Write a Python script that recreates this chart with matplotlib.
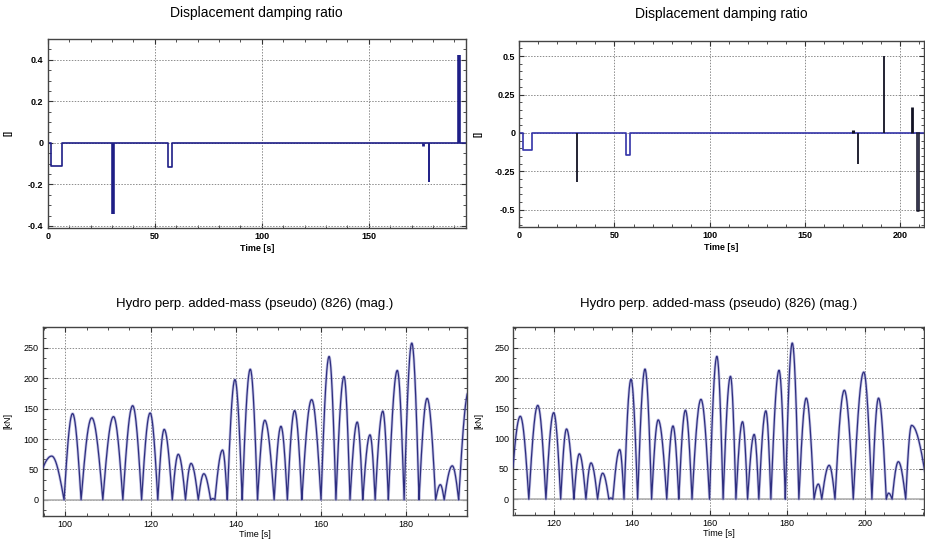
import numpy as np
import matplotlib
matplotlib.use("Agg")
import matplotlib.pyplot as plt
from matplotlib.ticker import MultipleLocator, AutoMinorLocator

plt.rcParams['font.family'] = ['Liberation Sans', 'DejaVu Sans']

# --- displacement damping ratio, first run (step signal + impulses)
damp_a_t = [0, 1.4, 6.5, 56.0, 58.2, 195.3]
damp_a_v = [0, -0.11, 0, -0.115, 0, 0]
spike_a_t = [30.4, 175.1, 178.1, 191.9]
spike_a_v = [-0.345, -0.015, -0.188, 0.423]
spike_a_w = [2.6, 2.0, 1.4, 2.6]

# --- displacement damping ratio, second run
damp_b_t = [0, 2.1, 6.8, 56.1, 58.2, 212.6]
damp_b_v = [0, -0.112, 0, -0.145, 0, 0]
spike_b_t = [30.2, 175.1, 178.1, 191.6, 206.3]
spike_b_v = [-0.322, 0.02, -0.199, 0.498, 0.169]
spike_b_w = [1.3, 2.2, 1.3, 1.3, 2.0]
dip_b_t = [208.8, 210.2]
dip_b_v = -0.508

# --- hydro added-mass force magnitude: lobes between zero touches
lobe_zero = [92.5, 99.7, 103.7, 108.8, 113.5, 117.9, 121.7, 125.1, 128.2,
             131.2, 134.1, 135.1, 138.0, 141.5, 145.1, 149.0, 152.1, 155.5,
             160.0, 163.5, 166.8, 169.8, 172.7, 175.8, 179.5, 183.0, 186.9,
             188.9, 192.3, 197.0, 201.8, 205.5, 207.0, 210.5, 216.5]
lobe_peak_t = [96.8, 101.7, 106.2, 111.3, 115.8, 119.9, 123.2, 126.5, 129.5,
               132.5, 134.6, 136.9, 139.8, 143.4, 146.8, 150.6, 153.8, 157.8,
               161.9, 165.4, 168.5, 171.5, 174.5, 177.9, 181.3, 184.9, 188.0,
               190.8, 194.7, 199.7, 203.5, 206.1, 208.6, 212.0]
lobe_peak_v = [72, 142, 135, 137, 155, 143, 116, 75, 60,
               43, 2, 82, 198, 215, 131, 121, 147, 165,
               236, 203, 128, 107, 146, 213, 258, 167, 25,
               56, 180, 210, 167, 10, 62, 122]

NAVY = '#1e1e86'
GRID = dict(color='#8c8c8c', linestyle=(0, (1.5, 1.5)), linewidth=0.7)


def force_curve():
    ts, vs = [], []
    for i, (p_t, p_v) in enumerate(zip(lobe_peak_t, lobe_peak_v)):
        z0, z1 = lobe_zero[i], lobe_zero[i + 1]
        up = np.linspace(z0, p_t, 25)
        down = np.linspace(p_t, z1, 25)[1:]
        ts += list(up) + list(down)
        vs += list(p_v * np.sin(np.pi / 2 * (up - z0) / (p_t - z0)))
        vs += list(p_v * np.cos(np.pi / 2 * (down - p_t) / (z1 - p_t)))
    return np.array(ts), np.array(vs)


def style(ax, bold):
    w = 'bold' if bold else 'normal'
    ax.tick_params(which='both', direction='in', top=True, right=True,
                   labelsize=6.5, colors='#333333', pad=3)
    ax.tick_params(which='major', length=3.5, width=0.8)
    ax.tick_params(which='minor', length=2, width=0.6)
    for lab in ax.get_xticklabels() + ax.get_yticklabels():
        lab.set_fontweight(w)
        lab.set_color('black')
    for s in ax.spines.values():
        s.set_color('#444444')
        s.set_linewidth(1.0)
    ax.grid(True, which='major', **GRID)
    ax.set_axisbelow(True)
    ax.set_xlabel('Time [s]', fontsize=6.5, fontweight=w,
                  labelpad=2 if bold else 0.5)


fig = plt.figure(figsize=(9.25, 5.4), dpi=100)

# top left
ax1 = fig.add_axes([0.0516, 0.5778, 0.452, 0.350])
ax1.step(damp_a_t, damp_a_v, where='post', color=NAVY, lw=1.2)
for t, v, w in zip(spike_a_t, spike_a_v, spike_a_w):
    ax1.vlines(t, 0, v, color=NAVY, lw=w)
ax1.set_xlim(0, 195.3)
ax1.set_ylim(-0.41, 0.5)
ax1.xaxis.set_major_locator(MultipleLocator(50))
ax1.xaxis.set_minor_locator(MultipleLocator(10))
ax1.set_yticks([-0.4, -0.2, 0, 0.2, 0.4])
ax1.set_yticklabels(['-0.4', '-0.2', '0', '0.2', '0.4'])
ax1.yaxis.set_minor_locator(MultipleLocator(0.05))
style(ax1, True)
ax1.set_ylabel('[]', fontsize=6.5, fontweight='bold')
ax1.yaxis.set_label_coords(-0.085, 0.5)
ax1.set_title('Displacement damping ratio', fontsize=10, pad=16)

# top right
ax2 = fig.add_axes([0.5614, 0.5802, 0.4375, 0.3444])
ax2.step(damp_b_t, damp_b_v, where='post', color='#3434a8', lw=1.2)
for t, v, w in zip(spike_b_t, spike_b_v, spike_b_w):
    ax2.vlines(t, 0, v, color='#111122', lw=w)
ax2.fill_between(dip_b_t, 0, dip_b_v, color='#b4b4e6', lw=0)
ax2.plot([dip_b_t[0], dip_b_t[0], dip_b_t[1], dip_b_t[1]],
         [0, dip_b_v, dip_b_v, 0], color='#111122', lw=1.1)
ax2.set_xlim(0, 212.6)
ax2.set_ylim(-0.61, 0.6)
ax2.xaxis.set_major_locator(MultipleLocator(50))
ax2.xaxis.set_minor_locator(MultipleLocator(10))
ax2.set_yticks([-0.5, -0.25, 0, 0.25, 0.5])
ax2.set_yticklabels(['-0.5', '-0.25', '0', '0.25', '0.5'])
ax2.yaxis.set_minor_locator(MultipleLocator(0.05))
style(ax2, True)
ax2.set_ylabel('[]', fontsize=6.5, fontweight='bold')
ax2.yaxis.set_label_coords(-0.09, 0.5)
ax2.set_title('Displacement damping ratio', fontsize=10, pad=16)

t_f, v_f = force_curve()
for rect, lim in [([0.0462, 0.0451, 0.4584, 0.3499], (94.7, 194.2)),
                  ([0.5549, 0.0464, 0.4440, 0.3486], (109.5, 215.2))]:
    ax = fig.add_axes(rect)
    ax.axhline(0, color='#b0b0b0', lw=1.2, zorder=1)
    ax.plot(t_f, v_f, color='#9c9cd2', lw=2.0, alpha=0.6, zorder=2)
    ax.plot(t_f, v_f, color='#2f2f80', lw=0.9, zorder=3)
    ax.set_xlim(*lim)
    ax.set_ylim(-26, 285)
    ax.xaxis.set_major_locator(MultipleLocator(20))
    ax.xaxis.set_minor_locator(MultipleLocator(5))
    ax.yaxis.set_major_locator(MultipleLocator(50))
    ax.yaxis.set_minor_locator(AutoMinorLocator(3))
    style(ax, False)
    ax.set_ylabel('[kN]', fontsize=6.5)
    ax.yaxis.set_label_coords(-0.072, 0.5)
    ax.set_title('Hydro perp. added-mass (pseudo) (826) (mag.)',
                 fontsize=9.5, pad=14)

fig.savefig('out.png', dpi=100)
